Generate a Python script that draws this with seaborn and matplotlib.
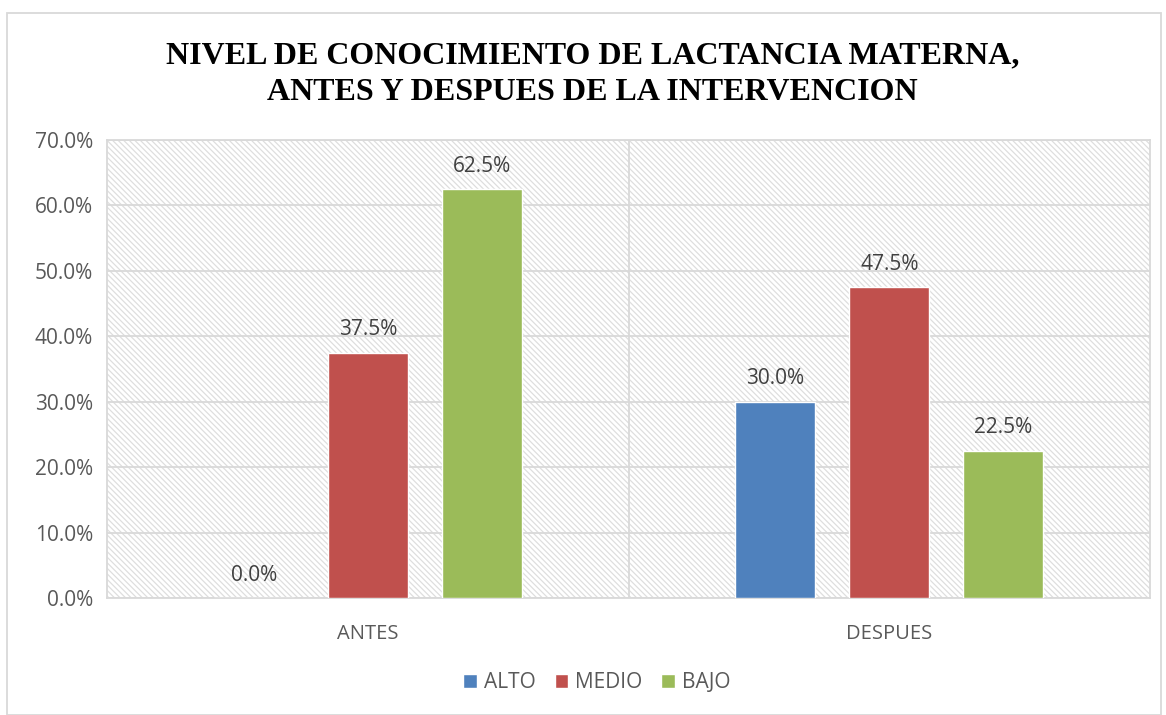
import numpy as np
import pandas as pd
import seaborn as sns
import matplotlib.pyplot as plt
from matplotlib.patches import Rectangle

# datos
momentos = ['ANTES', 'DESPUES']
niveles = ['ALTO', 'MEDIO', 'BAJO']
alto = [0.0, 30.0]
medio = [37.5, 47.5]
bajo = [62.5, 22.5]

colores = ['#4F81BD', '#C0504D', '#9BBB59']

df = pd.DataFrame({
    'Momento': momentos * 3,
    'Nivel': [n for n in niveles for _ in momentos],
    'Porcentaje': alto + medio + bajo,
})

sns.set_style('white')
plt.rcParams['font.family'] = ['Open Sans', 'DejaVu Sans']
plt.rcParams['hatch.linewidth'] = 0.9

fig = plt.figure(figsize=(11.66, 7.15), dpi=100)
ax = fig.add_axes([0.0918, 0.1636, 0.8945, 0.6405])

# fondo rayado del area de trazado
ax.add_patch(Rectangle((0, 0), 1, 1, transform=ax.transAxes, facecolor='white',
                       edgecolor='#dedede', hatch='\\\\\\\\\\\\', linewidth=0, zorder=0))

sns.barplot(data=df, x='Momento', y='Porcentaje', hue='Nivel', palette=colores,
            width=0.656, gap=0.3, ax=ax, zorder=3, saturation=1, errorbar=None)

ax.set_ylim(0, 70)
ax.set_xlim(-0.5, 1.5)
ax.set_yticks(np.arange(0, 71, 10))
ax.set_yticklabels([f'{v:.1f}%' for v in np.arange(0, 71, 10)], fontsize=15, color='#595959')
ax.tick_params(axis='x', labelsize=14.5, colors='#595959', pad=19, length=0)
ax.tick_params(axis='y', length=0, pad=10)
ax.set_xlabel('')
ax.set_ylabel('')
ax.yaxis.grid(True, color='#d9d9d9', linewidth=1.3, zorder=1)
ax.set_axisbelow(True)
ax.axvline(0.5, color='#d9d9d9', linewidth=1.3, zorder=1)
for s in ax.spines.values():
    s.set_color('#d9d9d9')
    s.set_linewidth(1.3)

for cont in ax.containers:
    ax.bar_label(cont, labels=[f'{v:.1f}%' for v in cont.datavalues],
                 padding=9, fontsize=15, color='#404040')

ax.legend(loc='center', bbox_to_anchor=(0.512, 0.045), bbox_transform=fig.transFigure,
          ncol=3, frameon=False, fontsize=15, handlelength=0.65, handleheight=0.65,
          handletextpad=0.35, columnspacing=0.9, labelcolor='#595959')

titulo = ['NIVEL DE CONOCIMIENTO DE LACTANCIA MATERNA,',
          'ANTES Y DESPUES DE LA INTERVENCION']
fig.text(0.508, 0.912, titulo[0], ha='center', va='baseline', fontsize=23,
         fontweight='bold', family='Liberation Serif', color='black')
fig.text(0.508, 0.860, titulo[1], ha='center', va='baseline', fontsize=23,
         fontweight='bold', family='Liberation Serif', color='black')

# borde exterior del grafico
fig.patches.append(Rectangle((0.006, 0.0), 0.99, 0.982, transform=fig.transFigure,
                             fill=False, edgecolor='#d9d9d9', linewidth=1.3))

fig.savefig('out.png', dpi=100)
